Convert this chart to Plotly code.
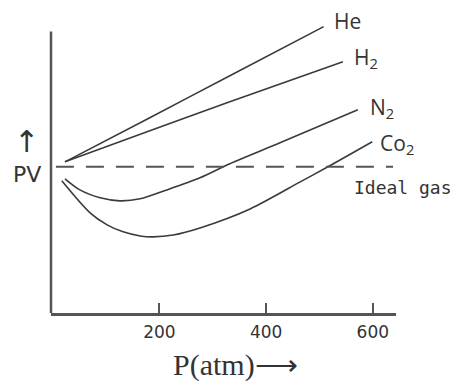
import plotly.graph_objects as go

# ---- data ----
he_p = [23, 182, 332, 508]
he_pv = [1.034, 1.336, 1.623, 1.959]

h2_p = [23, 182, 332, 544]
h2_pv = [1.034, 1.247, 1.445, 1.719]

n2_p = [23, 51, 89, 126, 164, 214, 276, 332, 426, 572]
n2_pv = [0.918, 0.842, 0.788, 0.767, 0.781, 0.842, 0.925, 1.021, 1.164, 1.390]

co2_p = [17, 70, 102, 132, 164, 188, 226, 276, 370, 464, 516, 599]
co2_pv = [0.904, 0.685, 0.603, 0.555, 0.527, 0.521, 0.534, 0.582, 0.712, 0.897, 1.0, 1.171]

ideal_p = [6, 638]
ideal_pv = [1.0, 1.0]

tick_vals = [200, 400, 600]
tick_text = ["200", "400", "600"]

LINE = "#3a3a3a"
AXIS = "#555555"

fig = go.Figure()
for xs, ys in [(he_p, he_pv), (h2_p, h2_pv), (n2_p, n2_pv), (co2_p, co2_pv)]:
    fig.add_trace(go.Scatter(x=xs, y=ys, mode="lines",
                             line=dict(color=LINE, width=1.6, shape="spline", smoothing=0.8),
                             showlegend=False, hoverinfo="skip"))
fig.add_trace(go.Scatter(x=ideal_p, y=ideal_pv, mode="lines",
                         line=dict(color=AXIS, width=2, dash="18px,12px"),
                         showlegend=False, hoverinfo="skip"))

label_font = dict(family="Open Sans, DejaVu Sans, sans-serif", size=21, color="#333")
ann = [
    dict(x=552, y=2.0, text="He", xanchor="center", yanchor="middle"),
    dict(x=561, y=1.747, text="H<sub>2</sub>", xanchor="left", yanchor="middle"),
    dict(x=591, y=1.404, text="N<sub>2</sub>", xanchor="left", yanchor="middle"),
    dict(x=610, y=1.158, text="Co<sub>2</sub>", xanchor="left", yanchor="middle"),
]
annotations = []
for a in ann:
    a.update(showarrow=False, xref="x", yref="y", font=label_font)
    annotations.append(a)
annotations.append(dict(x=561, y=0.856, text="Ideal gas", xanchor="left", yanchor="middle",
                        showarrow=False, xref="x", yref="y",
                        font=dict(family="DejaVu Sans Mono, monospace", size=18, color="#333")))
annotations.append(dict(x=-0.07, y=0.945, text="PV", xanchor="center", yanchor="middle",
                        showarrow=False, xref="paper", yref="y",
                        font=dict(family="DejaVu Sans, sans-serif", size=22, color="#333")))
annotations.append(dict(x=-0.07, y=1.175, text="↑", xanchor="center", yanchor="middle",
                        showarrow=False, xref="paper", yref="y",
                        font=dict(family="DejaVu Sans, sans-serif", size=30, color="#333")))
annotations.append(dict(x=0.536, y=-0.17, text="P(atm)⟶", xanchor="center", yanchor="middle",
                        showarrow=False, xref="paper", yref="paper",
                        font=dict(family="Liberation Serif, serif", size=30, color="#333")))

fig.update_layout(
    width=461, height=381,
    margin=dict(l=51, r=65, t=6, b=68),
    paper_bgcolor="white", plot_bgcolor="white",
    annotations=annotations,
    shapes=[dict(type="line", xref="paper", yref="y", x0=0, x1=0, y0=0, y1=1.925,
                 line=dict(color=AXIS, width=2.5))],
)
fig.update_xaxes(range=[-3.2, 643.5], showgrid=False, zeroline=False,
                 showline=True, linecolor=AXIS, linewidth=2.5,
                 tickmode="array", tickvals=tick_vals, ticktext=tick_text,
                 ticks="inside", ticklen=10, tickwidth=2, tickcolor=AXIS,
                 ticklabelstandoff=2,
                 tickfont=dict(family="DejaVu Sans, sans-serif", size=17, color="#333"))
fig.update_yaxes(range=[0, 2.1], showgrid=False, zeroline=False, showline=False,
                 showticklabels=False, ticks="")

fig.write_html("out.html", config={"displayModeBar": False},
               post_script="document.body.style.margin='0';document.body.style.padding='0';")
